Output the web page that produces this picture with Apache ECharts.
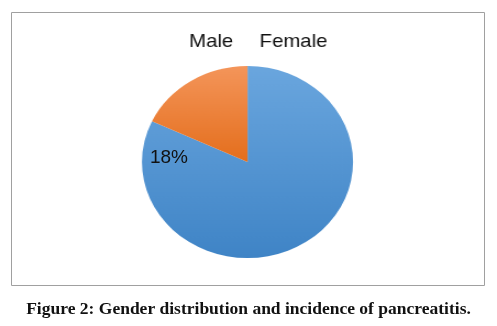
<!DOCTYPE html>
<html><head><meta charset="utf-8">
<script src="https://cdn.jsdelivr.net/npm/echarts@6/dist/echarts.min.js"></script>
<style>
html,body{margin:0;padding:0;background:#fff}
#wrap{position:relative;width:497px;height:326px;overflow:hidden;background:#fff}
#pie{position:absolute;left:0;top:0;width:452px;height:326px;transform:scaleX(1.0995);transform-origin:0 0;z-index:1}
#base{position:absolute;left:0;top:0;width:497px;height:326px;z-index:2}
</style>
</head><body><div id="wrap"><div id="pie"></div><div id="base"></div></div>
<script>
const categories = ['Female', 'Male'];
const values = [82, 18];
const legendOrder = ['Male', 'Female'];
const caption = 'Figure 2: Gender distribution and incidence of pancreatitis.';

const SX = 1.0995;
const total = values.reduce((a, b) => a + b, 0);
const malePct = Math.round(values[categories.indexOf('Male')] / total * 100) + '%';

const grad = (a, b) => new echarts.graphic.LinearGradient(0, 0, 0, 1, [{offset: 0, color: a}, {offset: 1, color: b}]);
const colors = {
  Female: grad('#6AA6DE', '#3F84C6'),
  Male: grad('#F4955A', '#E46E1C')
};

const pie = echarts.init(document.getElementById('pie'), null, {renderer: 'canvas'});
pie.setOption({
  animation: false,
  backgroundColor: '#fff',
  legend: {
    data: legendOrder,
    top: 27, left: 162,
    icon: 'rect', itemWidth: 0, itemHeight: 0, itemGap: 19,
    selectedMode: false,
    textStyle: {fontFamily: 'Liberation Sans, Arial, sans-serif', fontSize: 18.5, color: '#111'}
  },
  series: [{
    type: 'pie',
    center: [247.5 / SX, 162],
    radius: 96,
    startAngle: 90,
    clockwise: true,
    label: {show: false},
    labelLine: {show: false},
    emphasis: {disabled: true},
    data: categories.map((n, i) => ({name: n, value: values[i], itemStyle: {color: colors[n]}}))
  }]
});

const base = echarts.init(document.getElementById('base'), null, {renderer: 'canvas'});
base.setOption({
  animation: false,
  backgroundColor: 'transparent',
  graphic: [
    {type: 'rect', shape: {x: 11.5, y: 12.5, width: 473, height: 273}, style: {fill: 'none', stroke: '#a0a0a0', lineWidth: 1}},
    {type: 'text', x: 169, y: 158, style: {text: malePct, font: '19px "Liberation Sans", Arial, sans-serif', fill: '#111', align: 'center', verticalAlign: 'middle'}, z: 10},
    {type: 'text', left: 'center', top: 300, style: {text: caption, font: 'bold 17.5px "Liberation Serif", "DejaVu Serif", serif', fill: '#111'}}
  ]
});
</script></body></html>
